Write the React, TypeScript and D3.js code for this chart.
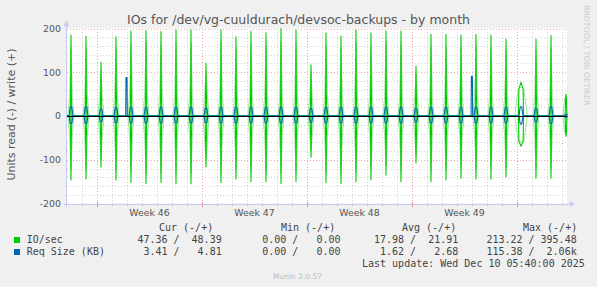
import React, { useEffect } from 'react';
import * as d3 from 'd3';

const W = 597;
const H = 287;

// time span of the graph (UTC)
const startDate = new Date(Date.UTC(2025, 10, 8, 0, 0));
const endDate = new Date(Date.UTC(2025, 10, 8, 0, 0) + (100 / 3) * 86400000);

const yTicks = [-200, -100, 0, 100, 200];
const weekLabels = ['Week 46', 'Week 47', 'Week 48', 'Week 49'];

// one burst of I/O per day (backup run ~06:24)
const spikeDates = d3.utcDay.range(startDate, endDate).map((d) => d3.utcMinute.offset(d, 384));

// IO/sec
const ioWrite = [185, 183, 123, 181, 194, 195, 193, 197, 197, 121, 197, 181, 193, 190, 200, 197, 117, 190, 183, 197, 190, 194, 194, 114, 187, 187, 185, 187, 185, 176, 77, 176, 184, 50];
const ioRead = [146, 144, 117, 146, 152, 155, 152, 155, 155, 116, 152, 144, 150, 150, 154, 150, 94, 152, 154, 150, 146, 135, 150, 107, 150, 146, 142, 144, 144, 139, 69, 142, 142, 47];
const ioWriteShoulder = [45, 45, 44, 48, 50, 48, 48, 45, 48, 48, 48, 45, 45, 45, 45, 45, 44, 45, 48, 45, 45, 45, 45, 44, 44, 45, 45, 45, 45, 45, 62, 45, 45, 40];
const ioReadShoulder = [45, 45, 44, 47, 50, 48, 48, 45, 48, 55, 48, 45, 45, 45, 45, 45, 44, 45, 48, 45, 45, 45, 45, 44, 44, 45, 45, 45, 45, 45, 58, 45, 45, 38];
// duration of each burst (in pixels of the month graph)
const ioBurstWidth = [1, 1, 1, 1, 1, 1, 1, 1, 1, 1, 1, 1, 1, 1, 1, 1, 1, 1, 1, 1, 1, 1, 1, 1, 1, 1, 1, 1, 1, 1, 2.6, 1, 1, 1];

// Req Size (KB)
const reqWrite = [21, 21, 16, 19, 20, 20, 20, 20, 20, 18, 20, 20, 20, 20, 20, 20, 17, 20, 20, 20, 20, 20, 20, 17, 20, 20, 20, 20, 20, 20, 21, 17, 21, 4];
const reqRead = [17, 17, 13, 15, 16, 16, 16, 16, 16, 15, 16, 16, 16, 16, 16, 16, 14, 16, 16, 16, 16, 16, 16, 14, 16, 16, 16, 16, 16, 16, 18, 14, 17, 3];
const reqBurstDates = [new Date(Date.UTC(2025, 10, 11, 22, 54)), new Date(Date.UTC(2025, 11, 4, 23, 30))];
const reqBurstValues = [88, 91];

const legendHeaders = ['Cur (-/+)', 'Min (-/+)', 'Avg (-/+)', 'Max (-/+)'];
const legendSeries = ['IO/sec', 'Req Size (KB)'];
const legendColors = ['#00cc00', '#0066b3'];
const legendValues = [
  ['47.36 /  48.39', '0.00 /   0.00', '17.98 /  21.91', '213.22 / 395.48'],
  ['3.41 /   4.81', '0.00 /   0.00', '1.62 /   2.68', '115.38 /  2.06k'],
];

const HOUR = 3600000;
const PX_H = 1.6; // hours per pixel at this scale

type Pt = [Date, number];

function buildSeries(sign: number, offs: (i: number) => number[], shape: (i: number) => number[]): Pt[] {
  const pts: Pt[] = [[startDate, 0]];
  spikeDates.forEach((d, i) => {
    const vals = shape(i);
    offs(i).forEach((o, k) => {
      pts.push([new Date(d.getTime() + o * PX_H * HOUR), sign * vals[k]]);
    });
  });
  pts.push([endDate, 0]);
  return pts.filter((p) => p[0] >= startDate && p[0] <= endDate);
}

export default function App() {
  useEffect(() => {
    document.body.style.margin = '0';
    document.body.style.background = '#f0f0f0';
  }, []);

  const left = 67;
  const right = 567;
  const top = 28.5;
  const bottom = 203.5;

  const x = d3.scaleUtc().domain([startDate, endDate]).range([left, right]);
  const y = d3.scaleLinear().domain([-200, 200]).range([bottom, top]);

  const line = d3
    .line<Pt>()
    .x((d) => x(d[0]))
    .y((d) => y(d[1]));

  // light antialias halo + dark core for the IO spikes
  const haloOffs = (i: number) => [-3, -1.4, 0, 1.4, 3].map((o) => o * Math.max(1, ioBurstWidth[i] * 0.8));
  const coreOffs = (i: number) =>
    ioBurstWidth[i] > 1 ? [-1, -0.8, 0, 0.8, 1].map((o) => o * ioBurstWidth[i]) : [-0.9, -0.4, 0, 0.4, 0.9];
  const writeHalo = buildSeries(1, haloOffs, (i) => [0, ioWriteShoulder[i], ioWrite[i] * 0.85, ioWriteShoulder[i], 0]);
  const readHalo = buildSeries(-1, haloOffs, (i) => [0, ioReadShoulder[i], ioRead[i] * 0.85, ioReadShoulder[i], 0]);
  const writeIO = buildSeries(1, coreOffs, (i) => [0, ioWriteShoulder[i], ioWrite[i], ioWriteShoulder[i], 0]);
  const readIO = buildSeries(-1, coreOffs, (i) => [0, ioReadShoulder[i], ioRead[i], ioReadShoulder[i], 0]);

  const blueOffs = () => [-2, -0.8, 0.8, 2];
  const writeReqBase = buildSeries(1, blueOffs, (i) => [0, reqWrite[i], reqWrite[i], 0]);
  const burstPts: Pt[] = [];
  reqBurstDates.forEach((d, i) => {
    burstPts.push([new Date(d.getTime() - 0.6 * PX_H * HOUR), 0]);
    burstPts.push([new Date(d.getTime() - 0.3 * PX_H * HOUR), reqBurstValues[i]]);
    burstPts.push([new Date(d.getTime() + 0.7 * PX_H * HOUR), reqBurstValues[i]]);
    burstPts.push([new Date(d.getTime() + 1.0 * PX_H * HOUR), 0]);
  });
  const writeReq = [...writeReqBase, ...burstPts].sort((a, b) => a[0].getTime() - b[0].getTime());
  const readReq = buildSeries(-1, blueOffs, (i) => [0, reqRead[i], reqRead[i], 0]);

  const minorY = d3.range(-200, 201, 20).filter((v) => v % 100 !== 0);
  const days = d3.utcDay.range(d3.utcDay.offset(startDate, 1), endDate);
  const mondays = d3.utcMonday.range(startDate, endDate);
  const weekCenters = mondays.map((m) => d3.utcHour.offset(m, 84)).filter((d) => d < endDate);

  const sans = "'DejaVu Sans', sans-serif";
  const mono = "'DejaVu Sans Mono', monospace";
  const colEnds = [221.7, 340.5, 458.3, 576.7];
  const headerStarts = [159, 281, 402, 523];
  const pre = { whiteSpace: 'pre' as const };

  return (
    <svg width={W} height={H} style={{ position: 'absolute', left: 0, top: 0, display: 'block' }} xmlns="http://www.w3.org/2000/svg">
      <rect x={0} y={0} width={W} height={H} fill="#f0f0f0" />
      <rect x={left} y={top} width={right - left} height={bottom - top} fill="#ffffff" />

      {/* grid */}
      <g shapeRendering="crispEdges">
        {minorY.map((v) => (
          <line key={'my' + v} x1={left} x2={right} y1={Math.round(y(v)) + 0.5} y2={Math.round(y(v)) + 0.5} stroke="#d4d4d4" strokeDasharray="1,2" />
        ))}
        {days.map((d, i) => (
          <line key={'mx' + i} x1={Math.round(x(d)) + 0.5} x2={Math.round(x(d)) + 0.5} y1={top} y2={bottom} stroke="#d4d4d4" strokeDasharray="1,2" />
        ))}
        {yTicks.map((v) => (
          <line key={'My' + v} x1={left} x2={right} y1={Math.round(y(v)) + 0.5} y2={Math.round(y(v)) + 0.5} stroke="#eeaaaa" strokeDasharray="1,2" />
        ))}
        {mondays.map((d, i) => (
          <line key={'Mx' + i} x1={Math.round(x(d)) + 0.5} x2={Math.round(x(d)) + 0.5} y1={top} y2={bottom} stroke="#eeaaaa" strokeDasharray="1,2" />
        ))}
        {days.map((d, i) => (
          <line key={'tx' + i} x1={Math.round(x(d)) + 0.5} x2={Math.round(x(d)) + 0.5} y1={bottom - 1} y2={bottom + 2} stroke="#cccccc" />
        ))}
        {mondays.map((d, i) => (
          <line key={'Tx' + i} x1={Math.round(x(d)) + 0.5} x2={Math.round(x(d)) + 0.5} y1={bottom - 2} y2={bottom + 3} stroke="#ee8888" />
        ))}
      </g>

      {/* data */}
      <g fill="none" strokeLinejoin="round">
        <path d={line(writeHalo) || ''} stroke="#9be89b" strokeWidth={1} />
        <path d={line(readHalo) || ''} stroke="#9be89b" strokeWidth={1} />
        <path d={line(writeIO) || ''} stroke="#00cc00" strokeWidth={1.1} />
        <path d={line(readIO) || ''} stroke="#00cc00" strokeWidth={1.1} />
        <path d={line(writeReq) || ''} stroke="#0066b3" strokeWidth={1.1} />
        <path d={line(readReq) || ''} stroke="#0066b3" strokeWidth={1.1} />
      </g>

      {/* zero line */}
      <line x1={left} x2={right} y1={Math.round(y(0)) + 0.5} y2={Math.round(y(0)) + 0.5} stroke="#000000" strokeWidth={1} shapeRendering="crispEdges" />

      {/* axes */}
      <g stroke="#c8c8f0" shapeRendering="crispEdges">
        <line x1={left - 0.5} x2={left - 0.5} y1={bottom + 3} y2={top - 4} />
        <line x1={left - 3} x2={right + 4} y1={bottom + 0.5} y2={bottom + 0.5} />
      </g>
      <path d={`M${left - 3.5},${top - 2} L${left - 0.5},${top - 8} L${left + 2.5},${top - 2} Z`} fill="#c8c8f0" />
      <path d={`M${right + 3},${bottom - 2.5} L${right + 8},${bottom + 0.5} L${right + 3},${bottom + 3.5} Z`} fill="#c8c8f0" />

      {/* y tick labels */}
      {yTicks.map((v) => (
        <text key={'yl' + v} x={61} y={y(v) + 3.4} textAnchor="end" fontFamily={sans} fontSize={9.4} fill="#555">
          {v}
        </text>
      ))}

      {/* x labels */}
      {weekCenters.map((d, i) => (
        <text key={'wl' + i} x={x(d)} y={216} textAnchor="middle" fontFamily={sans} fontSize={9.4} fill="#555">
          {weekLabels[i]}
        </text>
      ))}

      {/* title */}
      <text x={298.5} y={23.5} textAnchor="middle" fontFamily={sans} fontSize={12.5} fill="#555">
        IOs for /dev/vg-cuuldurach/devsoc-backups - by month
      </text>

      {/* y axis title */}
      <text transform={`translate(15,${114.5}) rotate(-90)`} textAnchor="middle" fontFamily={sans} fontSize={11} fill="#555">
        Units read (-) / write (+)
      </text>

      {/* rrdtool watermark */}
      <text transform="translate(584,5) rotate(90)" fontFamily={sans} fontSize={7.8} fill="#cccccc">
        RRDTOOL / TOBI OETIKER
      </text>

      {/* legend */}
      <g fontFamily={mono} fontSize={10} fill="#444">
        {legendHeaders.map((h, i) => (
          <text key={'h' + i} x={headerStarts[i]} y={230.5} xmlSpace="preserve" style={pre}>
            {h}
          </text>
        ))}
        {legendSeries.map((s, r) => (
          <g key={'r' + r}>
            <rect x={14} y={237 + r * 12} width={6} height={6} fill={legendColors[r]} />
            <text x={26.7} y={243.3 + r * 11.9} xmlSpace="preserve" style={pre}>
              {s}
            </text>
            {legendValues[r].map((v, c) => (
              <text key={'v' + c} x={colEnds[c]} y={243.3 + r * 11.9} textAnchor="end" xmlSpace="preserve" style={pre}>
                {v}
              </text>
            ))}
          </g>
        ))}
        <text x={362} y={266.6} xmlSpace="preserve" style={pre}>
          Last update: Wed Dec 10 05:40:00 2025
        </text>
      </g>
      <text x={273} y={279} fontFamily={sans} fontSize={7.5} fill="#bbbbbb">
        Munin 2.0.57
      </text>
    </svg>
  );
}
